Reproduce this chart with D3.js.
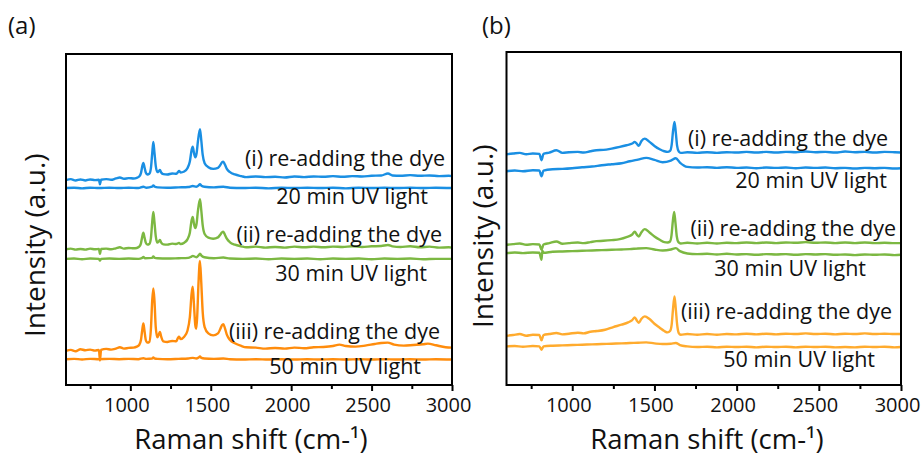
<!DOCTYPE html>
<html>
<head>
<meta charset="utf-8">
<script src="https://cdn.jsdelivr.net/npm/d3@7"></script>
<style>
  body { margin: 0; background: #fff; }
  svg { display: block; font-family: "Open Sans", sans-serif; }
</style>
</head>
<body>
<svg id="chart" width="921" height="457"></svg>
<script>
// Raman shift axis
const shiftDomain = [600, 3000];
const majorTicks = [1000, 1500, 2000, 2500, 3000];
const minorTicks = [750, 1250, 1750, 2250, 2750];

// colours of the three dye/UV pairs
const colorsA = ['#1a8fe3', '#7cb842', '#ff8c0c'];
const colorsB = ['#1a8fe3', '#7cb842', '#ffab2e'];

// annotation texts
const dyeLabels = ['(i) re-adding the dye', '(ii) re-adding the dye', '(iii) re-adding the dye'];
const uvLabels = ['20 min UV light', '30 min UV light', '50 min UV light'];

// ---- panel (a) spectra: [Raman shift, intensity (a.u., % of frame)] ----
const aDye1 = [[600,61.9],[630,62.2],[660,61.8],[690,62.1],[720,61.8],[750,62.1],[780,61.9],[805,62.0],[811,60.6],[818,62.0],[850,62.2],[880,62.0],[910,62.4],[935,62.7],[960,62.3],[990,62.5],[1020,62.4],[1040,62.6],[1055,63.0],[1066,64.0],[1074,66.0],[1081,67.1],[1088,65.8],[1096,64.2],[1106,63.6],[1118,63.8],[1128,65.5],[1136,70.0],[1143,73.4],[1150,70.2],[1158,66.2],[1168,64.3],[1177,64.6],[1184,65.0],[1192,64.2],[1205,63.7],[1230,63.6],[1260,63.9],[1285,63.8],[1296,64.3],[1303,64.7],[1312,64.2],[1335,64.5],[1355,65.5],[1370,67.5],[1381,71.0],[1388,72.0],[1396,70.0],[1404,68.8],[1412,70.0],[1420,73.5],[1433,77.3],[1441,74.0],[1450,69.5],[1462,67.0],[1485,65.8],[1515,65.3],[1545,65.6],[1560,66.5],[1570,67.3],[1578,67.5],[1588,66.6],[1600,65.3],[1620,64.3],[1650,63.6],[1690,63.1],[1720,62.8],[1780,63.0],[1840,62.8],[1900,62.9],[1960,62.7],[2020,63.0],[2080,62.8],[2140,63.0],[2200,62.9],[2260,63.1],[2320,62.9],[2380,63.1],[2440,63.0],[2500,63.2],[2560,63.3],[2602,63.9],[2630,63.3],[2680,63.2],[2740,63.4],[2800,63.2],[2860,63.3],[2920,63.1],[2980,63.2],[3000,63.1]];
const aUv1 = [[600,59.5],[650,59.6],[700,59.4],[750,59.6],[805,59.5],[870,59.6],[930,59.5],[990,59.6],[1050,59.5],[1081,59.9],[1100,59.6],[1135,59.9],[1143,60.3],[1152,59.9],[1170,59.7],[1230,59.6],[1300,59.7],[1360,59.8],[1388,60.1],[1410,59.9],[1425,60.3],[1433,60.7],[1442,60.2],[1460,59.9],[1520,59.7],[1578,59.9],[1620,59.6],[1700,59.5],[1780,59.6],[1860,59.4],[1940,59.6],[2020,59.5],[2100,59.6],[2180,59.5],[2260,59.6],[2340,59.4],[2420,59.6],[2500,59.5],[2580,59.6],[2660,59.5],[2740,59.6],[2820,59.5],[2900,59.6],[3000,59.5]];

const aDye2 = [[600,41.0],[630,41.2],[660,40.9],[690,41.1],[720,40.9],[750,41.2],[780,41.0],[805,41.1],[811,39.6],[818,41.1],[850,41.2],[880,41.0],[910,41.3],[935,41.6],[960,41.2],[990,41.4],[1020,41.3],[1040,41.4],[1055,41.8],[1066,42.8],[1074,44.8],[1081,46.0],[1088,44.6],[1096,43.0],[1106,42.4],[1118,42.6],[1128,44.4],[1136,49.2],[1143,52.3],[1150,49.2],[1158,45.0],[1168,43.0],[1177,43.4],[1184,43.8],[1192,43.0],[1205,42.5],[1230,42.4],[1260,42.7],[1285,42.6],[1296,42.8],[1303,42.9],[1312,42.6],[1335,43.0],[1355,44.0],[1370,46.0],[1381,49.8],[1388,50.8],[1396,48.6],[1404,47.4],[1412,48.8],[1420,52.5],[1433,56.1],[1441,52.8],[1450,48.2],[1462,45.6],[1485,44.5],[1515,44.2],[1545,44.6],[1560,45.5],[1570,46.1],[1578,46.3],[1588,45.4],[1600,44.2],[1620,43.1],[1650,42.4],[1690,41.9],[1720,41.6],[1780,41.8],[1840,41.5],[1900,41.7],[1960,41.5],[2020,41.8],[2080,41.6],[2140,41.8],[2200,41.6],[2260,41.8],[2320,41.7],[2380,41.9],[2440,41.7],[2500,41.9],[2560,42.0],[2602,42.3],[2630,41.9],[2680,41.7],[2740,41.9],[2800,41.6],[2860,41.8],[2920,41.5],[2980,41.6],[3000,41.5]];
const aUv2 = [[600,38.1],[650,38.2],[700,38.0],[750,38.2],[805,38.1],[811,37.6],[818,38.1],[870,38.2],[930,38.1],[990,38.2],[1050,38.1],[1074,38.4],[1081,38.7],[1090,38.3],[1135,38.4],[1143,38.8],[1152,38.4],[1170,38.3],[1230,38.2],[1300,38.3],[1360,38.4],[1380,38.8],[1388,39.0],[1410,38.6],[1425,39.2],[1433,39.7],[1442,39.1],[1460,38.6],[1520,38.3],[1578,38.5],[1620,38.2],[1700,38.1],[1780,38.2],[1860,38.0],[1940,38.2],[2020,38.1],[2100,38.2],[2180,38.0],[2260,38.2],[2340,38.1],[2420,38.2],[2500,38.0],[2580,38.2],[2660,38.1],[2740,38.2],[2820,38.0],[2900,38.1],[3000,38.1]];

const aDye3 = [[600,10.3],[630,10.6],[660,10.2],[690,10.8],[720,10.5],[750,10.7],[780,10.4],[805,10.6],[811,7.4],[818,10.6],[850,10.9],[880,10.7],[910,11.0],[935,11.4],[960,11.0],[990,11.2],[1020,11.3],[1040,11.6],[1055,12.1],[1066,13.6],[1074,16.6],[1081,18.6],[1088,16.4],[1096,13.6],[1106,12.8],[1118,13.0],[1128,17.0],[1136,25.5],[1143,29.2],[1150,25.5],[1158,17.5],[1168,14.4],[1177,15.3],[1184,16.0],[1192,14.6],[1205,13.2],[1230,13.0],[1260,13.3],[1285,13.2],[1296,14.2],[1303,14.6],[1312,13.9],[1335,14.6],[1355,16.4],[1370,20.5],[1381,27.6],[1388,29.7],[1396,24.0],[1404,18.0],[1410,17.0],[1416,21.0],[1424,31.0],[1433,37.5],[1441,31.0],[1450,22.0],[1462,17.5],[1485,15.6],[1515,15.0],[1545,15.6],[1560,17.0],[1570,18.1],[1578,18.4],[1588,17.2],[1600,15.2],[1620,13.6],[1650,12.6],[1690,11.8],[1720,11.4],[1780,11.3],[1840,11.0],[1900,11.2],[1960,11.0],[2020,11.3],[2080,11.1],[2140,11.4],[2200,11.5],[2260,11.8],[2300,12.2],[2340,11.8],[2400,11.6],[2460,11.9],[2520,12.4],[2560,12.7],[2600,12.8],[2640,12.2],[2700,11.9],[2760,12.1],[2820,12.3],[2850,12.5],[2900,12.0],[2960,11.4],[3000,11.3]];
const aUv3 = [[600,7.8],[650,7.9],[700,7.7],[750,7.9],[805,7.8],[870,7.9],[930,7.8],[990,7.9],[1050,7.8],[1081,8.1],[1100,7.9],[1135,8.0],[1143,8.3],[1152,8.0],[1170,7.9],[1230,7.8],[1300,7.9],[1360,8.0],[1388,8.2],[1410,8.0],[1425,8.3],[1433,8.6],[1442,8.2],[1460,8.0],[1520,7.9],[1578,8.0],[1620,7.8],[1700,7.7],[1780,7.8],[1860,7.7],[1940,7.8],[2020,7.7],[2100,7.8],[2180,7.7],[2260,7.8],[2340,7.7],[2420,7.8],[2500,7.7],[2580,7.8],[2660,7.7],[2740,7.8],[2820,7.7],[2900,7.8],[3000,7.7]];

// ---- panel (b) spectra ----
const bDye1 = [[600,69.3],[640,69.5],[681,69.7],[720,69.3],[760,69.5],[800,69.4],[813,67.5],[825,69.4],[860,69.8],[904,70.5],[940,69.7],[980,69.9],[1034,70.0],[1070,69.8],[1110,70.2],[1147,70.5],[1190,70.6],[1240,71.0],[1289,71.5],[1330,72.0],[1365,72.5],[1380,73.0],[1395,72.3],[1405,71.8],[1420,73.2],[1441,74.0],[1470,73.0],[1500,71.8],[1532,70.8],[1560,70.2],[1580,70.0],[1595,70.3],[1605,72.2],[1613,76.2],[1622,79.0],[1630,75.8],[1638,71.8],[1648,70.1],[1660,69.7],[1700,69.9],[1760,69.7],[1820,69.9],[1880,69.7],[1940,69.9],[2000,69.8],[2060,70.0],[2120,69.8],[2180,70.0],[2240,69.8],[2300,70.0],[2360,69.9],[2420,70.1],[2480,69.9],[2540,70.0],[2600,69.8],[2660,70.1],[2720,69.9],[2780,70.0],[2840,69.8],[2900,70.0],[2960,69.9],[3000,69.8]];
const bUv1 = [[600,64.2],[650,64.4],[700,64.2],[760,64.5],[800,64.4],[813,62.7],[825,64.4],[880,64.8],[940,64.9],[1000,65.1],[1060,65.4],[1120,65.6],[1180,66.0],[1240,66.3],[1300,66.6],[1350,67.2],[1400,67.7],[1450,68.2],[1500,67.6],[1550,66.9],[1600,67.4],[1630,68.1],[1655,66.8],[1700,65.5],[1760,65.3],[1820,65.4],[1880,65.2],[1940,65.4],[2000,65.2],[2060,65.3],[2120,65.1],[2180,65.3],[2240,65.2],[2300,65.3],[2360,65.1],[2420,65.3],[2480,65.2],[2540,65.3],[2600,65.1],[2660,65.2],[2720,65.0],[2780,65.2],[2840,65.1],[2900,65.2],[2960,65.0],[3000,65.1]];

const bDye2 = [[600,42.1],[640,42.3],[681,42.5],[720,42.1],[760,42.3],[800,42.2],[813,40.6],[825,42.2],[860,42.6],[904,43.1],[940,42.4],[980,42.6],[1034,42.8],[1070,42.6],[1110,42.9],[1147,43.2],[1190,43.3],[1240,43.5],[1289,43.8],[1330,44.4],[1365,45.2],[1380,46.0],[1395,45.0],[1405,44.6],[1420,45.8],[1441,46.8],[1470,45.8],[1500,44.6],[1532,43.6],[1560,42.9],[1580,42.8],[1595,43.1],[1604,45.0],[1612,49.2],[1620,52.0],[1628,48.6],[1636,44.6],[1646,42.9],[1660,42.5],[1700,42.7],[1760,42.5],[1820,42.7],[1880,42.5],[1940,42.7],[2000,42.6],[2060,42.8],[2120,42.6],[2180,42.8],[2240,42.6],[2300,42.8],[2360,42.7],[2420,42.9],[2480,42.7],[2540,42.8],[2600,42.6],[2660,42.8],[2720,42.6],[2780,42.8],[2840,42.6],[2900,42.7],[2960,42.6],[3000,42.6]];
const bUv2 = [[600,39.6],[650,39.8],[700,39.6],[760,39.8],[800,39.7],[813,37.6],[818,40.3],[825,39.7],[880,40.0],[940,40.1],[1000,40.2],[1060,40.3],[1120,40.4],[1180,40.5],[1240,40.6],[1300,40.7],[1350,40.8],[1400,41.0],[1450,41.1],[1500,40.7],[1550,40.4],[1600,40.7],[1630,41.1],[1655,40.2],[1700,39.5],[1760,39.3],[1820,39.4],[1880,39.2],[1940,39.4],[2000,39.2],[2060,39.3],[2120,39.1],[2180,39.3],[2240,39.2],[2300,39.3],[2360,39.1],[2420,39.3],[2480,39.2],[2540,39.3],[2600,39.1],[2660,39.2],[2720,39.0],[2780,39.2],[2840,39.1],[2900,39.2],[2960,39.0],[3000,39.1]];

const bDye3 = [[600,14.8],[640,15.0],[681,15.3],[720,14.8],[760,15.1],[800,15.0],[813,13.4],[825,15.0],[860,15.3],[904,15.6],[940,15.2],[980,15.4],[1034,15.7],[1070,15.5],[1110,16.0],[1150,16.2],[1200,16.6],[1250,17.4],[1300,18.1],[1340,18.8],[1365,19.5],[1380,20.3],[1395,19.2],[1405,18.7],[1420,19.8],[1441,20.6],[1470,19.8],[1500,18.4],[1532,17.2],[1560,16.2],[1580,15.8],[1596,16.3],[1605,18.2],[1613,22.8],[1622,26.6],[1630,22.8],[1638,18.2],[1648,15.6],[1660,15.1],[1700,15.3],[1760,15.1],[1820,15.3],[1880,15.1],[1940,15.3],[2000,15.2],[2060,15.4],[2120,15.2],[2180,15.4],[2240,15.2],[2300,15.4],[2360,15.3],[2420,15.5],[2480,15.3],[2540,15.4],[2600,15.2],[2660,15.4],[2720,15.3],[2780,15.5],[2840,15.3],[2900,15.4],[2960,15.3],[3000,15.3]];
const bUv3 = [[600,11.6],[650,11.7],[700,11.5],[760,11.7],[800,11.6],[813,10.6],[825,11.6],[880,11.8],[940,11.9],[1000,12.0],[1060,12.1],[1120,12.2],[1180,12.3],[1240,12.4],[1300,12.5],[1350,12.6],[1400,12.7],[1450,12.8],[1500,12.5],[1550,12.3],[1600,12.4],[1630,12.6],[1655,12.0],[1700,11.6],[1760,11.4],[1820,11.5],[1880,11.3],[1940,11.5],[2000,11.4],[2060,11.5],[2120,11.3],[2180,11.5],[2240,11.4],[2300,11.5],[2360,11.3],[2420,11.5],[2480,11.4],[2540,11.5],[2600,11.3],[2660,11.4],[2720,11.3],[2780,11.5],[2840,11.4],[2900,11.5],[2960,11.3],[3000,11.4]];

const panels = [
  {
    tag: '(a)', tagX: 8, box: { left: 66, top: 54, right: 452, bottom: 385 },
    yTitleX: 45, yTitleStart: 337, xTitleX: 251,
    colors: colorsA,
    spectra: [[aDye1, aUv1], [aDye2, aUv2], [aDye3, aUv3]],
    dyePos: [[445, 166], [442, 242], [440, 339]],
    uvPos: [[428, 204], [427, 281], [421, 374]]
  },
  {
    tag: '(b)', tagX: 482, box: { left: 506.5, top: 52, right: 901, bottom: 385 },
    yTitleX: 493, yTitleStart: 328, xTitleX: 707,
    colors: colorsB,
    spectra: [[bDye1, bUv1], [bDye2, bUv2], [bDye3, bUv3]],
    dyePos: [[888, 146], [896, 236], [892, 319]],
    uvPos: [[887, 188], [866, 276], [875, 367]]
  }
];

const svg = d3.select('#chart');

panels.forEach(p => {
  const b = p.box;
  const x = d3.scaleLinear().domain(shiftDomain).range([b.left, b.right]);
  const y = d3.scaleLinear().domain([0, 100]).range([b.bottom, b.top]);
  const g = svg.append('g');

  const line = d3.line().x(d => x(d[0])).y(d => y(d[1])).curve(d3.curveMonotoneX);

  // spectra
  p.spectra.forEach((pair, i) => {
    pair.forEach(s => {
      g.append('path')
        .datum(s)
        .attr('d', line)
        .attr('fill', 'none')
        .attr('stroke', p.colors[i])
        .attr('stroke-width', 2.4)
        .attr('stroke-linejoin', 'round');
    });
  });

  // frame
  g.append('rect')
    .attr('x', b.left).attr('y', b.top)
    .attr('width', b.right - b.left).attr('height', b.bottom - b.top)
    .attr('fill', 'none').attr('stroke', '#000').attr('stroke-width', 2);

  // bottom axis, major + minor ticks
  const xAxis = d3.axisBottom(x).tickValues(majorTicks).tickSize(6).tickPadding(7).tickFormat(d3.format('d'));
  const ax = g.append('g').attr('transform', `translate(0,${b.bottom})`).call(xAxis);
  ax.select('.domain').remove();
  ax.selectAll('line').attr('stroke', '#000').attr('stroke-width', 2);
  ax.selectAll('text').attr('font-size', 20).attr('dx', -4).attr('fill', '#111').attr('font-family', '"Open Sans", sans-serif');

  const minorAxis = d3.axisBottom(x).tickValues(minorTicks).tickSize(4).tickFormat('');
  const mx = g.append('g').attr('transform', `translate(0,${b.bottom})`).call(minorAxis);
  mx.select('.domain').remove();
  mx.selectAll('line').attr('stroke', '#000').attr('stroke-width', 2);

  // annotations
  p.dyePos.forEach((pos, i) => {
    g.append('text').attr('x', pos[0]).attr('y', pos[1])
      .attr('text-anchor', 'end').attr('font-size', 21.5).attr('fill', '#111')
      .text(dyeLabels[i]);
  });
  p.uvPos.forEach((pos, i) => {
    g.append('text').attr('x', pos[0]).attr('y', pos[1])
      .attr('text-anchor', 'end').attr('font-size', 21.5).attr('fill', '#111')
      .text(uvLabels[i]);
  });

  // axis titles
  g.append('text')
    .attr('x', p.xTitleX).attr('y', 449)
    .attr('text-anchor', 'middle').attr('font-size', 27.5).attr('fill', '#111')
    .text('Raman shift (cm-¹)');

  g.append('text')
    .attr('transform', `translate(${p.yTitleX},${p.yTitleStart}) rotate(-90)`)
    .attr('text-anchor', 'start').attr('font-size', 28).attr('fill', '#111')
    .text('Intensity (a.u.)');

  // panel tag
  g.append('text')
    .attr('x', p.tagX).attr('y', 34)
    .attr('font-size', 24).attr('fill', '#111')
    .text(p.tag);
});
</script>
</body>
</html>
